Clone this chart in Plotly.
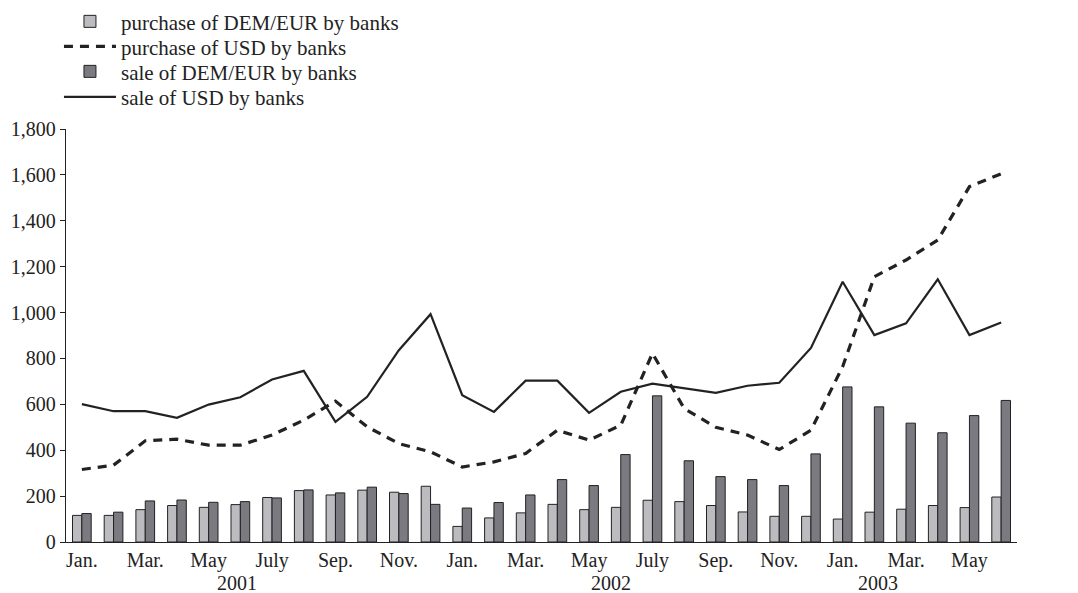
import plotly.graph_objects as go

# ---- data ----
month_labels = ["Jan.", "Feb.", "Mar.", "Apr.", "May", "June", "July", "Aug.", "Sep.", "Oct.", "Nov.", "Dec.",
                "Jan.", "Feb.", "Mar.", "Apr.", "May", "June", "July", "Aug.", "Sep.", "Oct.", "Nov.", "Dec.",
                "Jan.", "Feb.", "Mar.", "Apr.", "May", "June"]
shown_tick_labels = ["Jan.", "Mar.", "May", "July", "Sep.", "Nov.",
                     "Jan.", "Mar.", "May", "July", "Sep.", "Nov.",
                     "Jan.", "Mar.", "May"]
years = ["2001", "2002", "2003"]
year_label_pos = [4.9, 16.7, 25.1]
year_boundaries = [10.5, 22.5]

purchase_dem = [116, 116, 141, 159, 151, 163, 194, 224, 205, 226, 217, 243,
                68, 105, 127, 164, 141, 151, 182, 176, 159, 131, 112, 112,
                100, 130, 143, 159, 150, 196]
sale_dem = [124, 130, 179, 183, 173, 176, 192, 227, 214, 239, 211, 164,
            148, 172, 205, 272, 246, 381, 637, 354, 285, 272, 246, 384,
            676, 589, 518, 476, 551, 617]
purchase_usd = [316, 335, 441, 448, 422, 422, 466, 531, 614, 502, 429, 393,
                327, 349, 386, 487, 444, 509, 822, 582, 500, 466, 403, 487,
                764, 1156, 1229, 1316, 1549, 1605]
sale_usd = [601, 570, 570, 541, 599, 631, 708, 746, 524, 633, 836, 993,
            640, 567, 703, 703, 563, 655, 690, 670, 650, 681, 694, 846,
            1134, 902, 953, 1145, 902, 957]

y_ticks = [0, 200, 400, 600, 800, 1000, 1200, 1400, 1600, 1800]

x = list(range(len(month_labels)))
label_idx = [i for i in x if i % 2 == 0]
boundaries = [i + 0.5 for i in x[:-1]]

FONT = "Liberation Serif, Times New Roman, serif"
INK = "#222222"
LIGHT = "#bcbcc0"
DARK = "#7a7a80"

fig = go.Figure()
fig.add_trace(go.Bar(x=x, y=purchase_dem, name="purchase of DEM/EUR by banks",
                     marker=dict(color=LIGHT, line=dict(color=INK, width=1)),
                     legend="legend"))
fig.add_trace(go.Scatter(x=x, y=purchase_usd, name="purchase of USD by banks", mode="lines",
                         line=dict(color=INK, width=3.2, dash="9px,7px"),
                         legend="legend2"))
fig.add_trace(go.Bar(x=x, y=sale_dem, name="sale of DEM/EUR by banks",
                     marker=dict(color=DARK, line=dict(color=INK, width=1)),
                     legend="legend3"))
fig.add_trace(go.Scatter(x=x, y=sale_usd, name="sale of USD by banks", mode="lines",
                         line=dict(color=INK, width=2.2),
                         legend="legend4"))

annotations = [dict(x=p, y=-0.099, xref="x", yref="paper", text=t, showarrow=False,
                    font=dict(family=FONT, size=20, color=INK), yanchor="middle")
               for p, t in zip(year_label_pos, years)]


def leg(ypos):
    return dict(x=-0.0074, y=ypos, xanchor="left", yanchor="middle",
                bgcolor="rgba(0,0,0,0)", itemwidth=52, borderwidth=0,
                font=dict(family=FONT, size=21, color=INK))


fig.update_layout(
    width=1070, height=585,
    margin=dict(l=58, r=61, t=121, b=51, pad=0, autoexpand=False),
    paper_bgcolor="white", plot_bgcolor="white",
    font=dict(family=FONT, size=20, color=INK),
    barmode="group", bargap=0.41, bargroupgap=0,
    showlegend=True,
    legend=leg(1.2598),
    legend2=leg(1.1993),
    legend3=leg(1.1387),
    legend4=leg(1.0768),
    xaxis=dict(range=[-0.5, len(x) - 0.5], tickmode="array",
               tickvals=label_idx, ticktext=shown_tick_labels,
               ticks="", showline=True, linecolor=INK, linewidth=1.3,
               showgrid=False, zeroline=False, tickfont=dict(size=20),
               automargin=False),
    xaxis2=dict(range=[-0.5, len(x) - 0.5], overlaying="x", anchor="y",
                tickmode="array", tickvals=boundaries, ticks="inside", ticklen=5,
                tickcolor=INK, tickwidth=1, showticklabels=False, showline=False,
                showgrid=False, zeroline=False),
    xaxis3=dict(range=[-0.5, len(x) - 0.5], overlaying="x", anchor="y",
                tickmode="array", tickvals=year_boundaries, ticks="inside", ticklen=12,
                tickcolor=INK, tickwidth=1, showticklabels=False, showline=False,
                showgrid=False, zeroline=False),
    yaxis=dict(range=[0, 1800], tickmode="array", tickvals=y_ticks,
               tickformat=",d", ticks="outside", ticklen=5, tickcolor=INK,
               showline=True, linecolor=INK, linewidth=1.3, showgrid=False,
               zeroline=False, tickfont=dict(size=20), automargin=False),
    yaxis2=dict(range=[0, 1800], overlaying="y", side="right", anchor="x",
                tickmode="array", tickvals=y_ticks, tickformat=",d",
                ticks="outside", ticklen=5, tickcolor=INK,
                showline=True, linecolor=INK, linewidth=1.3, showgrid=False,
                zeroline=False, tickfont=dict(size=20), automargin=False),
    annotations=annotations,
)

fig.write_html("out.html")
